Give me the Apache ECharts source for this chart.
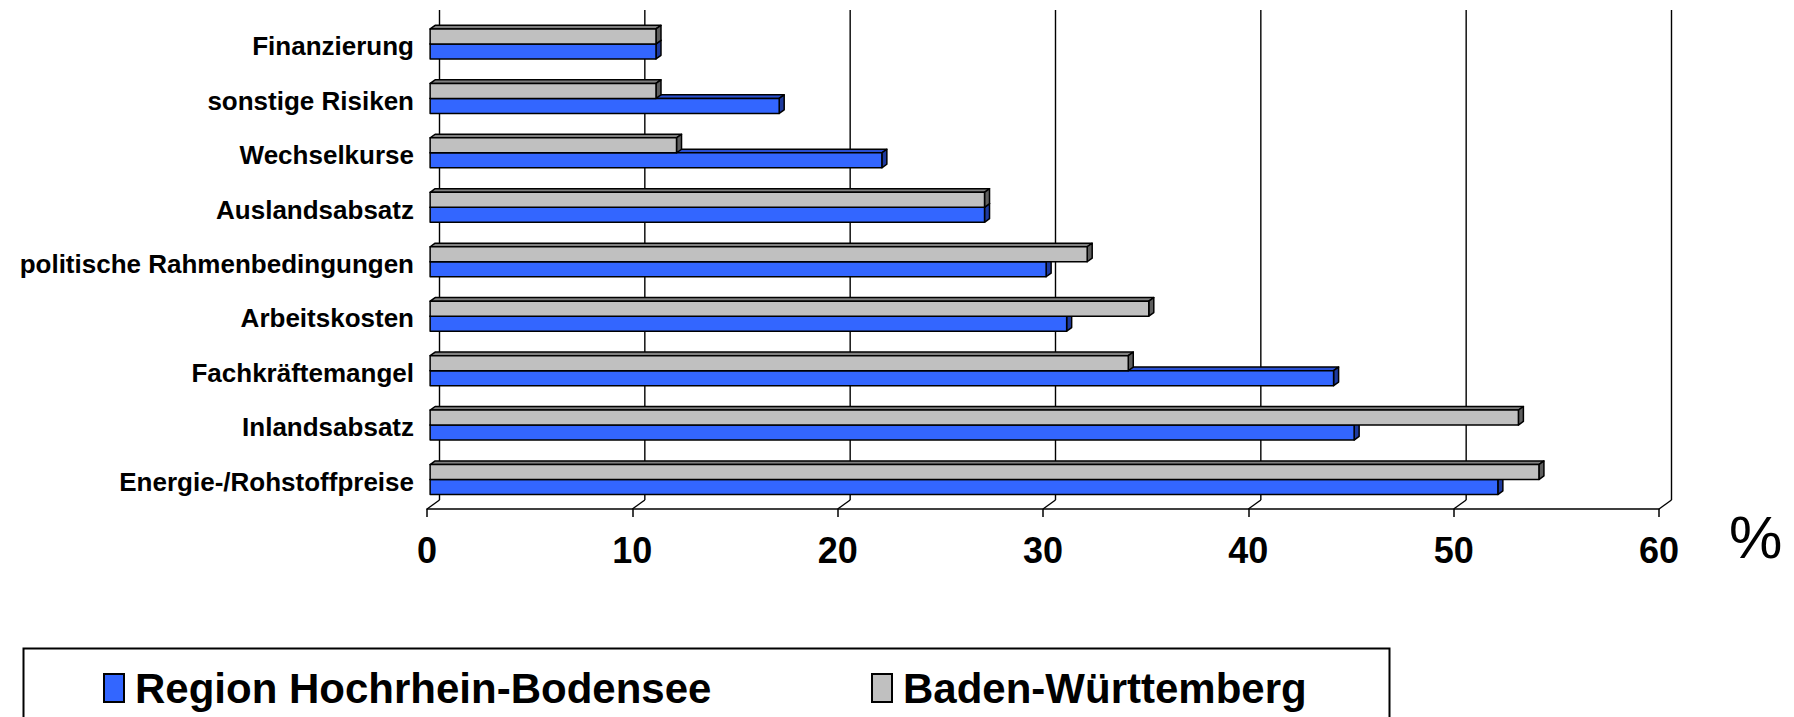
<!DOCTYPE html>
<html>
<head>
<meta charset="utf-8">
<script src="https://cdn.jsdelivr.net/npm/echarts@6/dist/echarts.min.js"></script>
<style>
  html, body { margin: 0; padding: 0; background: #fff; }
  #chart { width: 1794px; height: 717px; }
</style>
</head>
<body>
<div id="chart"></div>
<script>
// ---- data ----
const categories = ['Finanzierung', 'sonstige Risiken', 'Wechselkurse', 'Auslandsabsatz',
  'politische Rahmenbedingungen', 'Arbeitskosten', 'Fachkräftemangel', 'Inlandsabsatz',
  'Energie-/Rohstoffpreise'];
const regionValues = [11, 17, 22, 27, 30, 31, 44, 45, 52];
const bwValues = [11, 11, 12, 27, 32, 35, 34, 53, 54];
const xTicks = [0, 10, 20, 30, 40, 50, 60];
const seriesNames = ['Region Hochrhein-Bodensee', 'Baden-Württemberg'];

// ---- style ----
const FONT = "'Liberation Sans', Arial, sans-serif";
const DEPTH = [12.5, -9];      // back-wall offset in px
const FRONT = 0.25, BDEPTH = 0.4, BAR_FRAC = 0.2755;
const BLUE = { front: '#3366FF', top: '#2A50D2', side: '#1E3A9E' };
const GRAY = { front: '#C0C0C0', top: '#808080', side: '#5E5E5E' };

function barRenderer(colors, upper) {
  return function (params, api) {
    const cat = api.value(0), val = api.value(1);
    const p0 = api.coord([0, cat]);
    const p1 = api.coord([val, cat]);
    const band = api.size([0, 1])[1];
    const t = band * BAR_FRAC;
    const fx = DEPTH[0] * FRONT, fy = DEPTH[1] * FRONT;
    const bx = DEPTH[0] * BDEPTH, by = DEPTH[1] * BDEPTH;
    const yc = p0[1] + fy;
    const yTop = upper ? yc - t : yc;
    const x0 = p0[0] + fx, x1 = p1[0] + fx;
    const stroke = { stroke: '#000', lineWidth: 1.5, lineJoin: 'round' };
    return {
      type: 'group',
      children: [
        { type: 'polygon', shape: { points: [[x0, yTop], [x1, yTop], [x1 + bx, yTop + by], [x0 + bx, yTop + by]] },
          style: Object.assign({ fill: colors.top }, stroke) },
        { type: 'polygon', shape: { points: [[x1, yTop], [x1, yTop + t], [x1 + bx, yTop + t + by], [x1 + bx, yTop + by]] },
          style: Object.assign({ fill: colors.side }, stroke) },
        { type: 'rect', shape: { x: x0, y: yTop, width: x1 - x0, height: t },
          style: Object.assign({ fill: colors.front }, stroke) }
      ]
    };
  };
}

function wallRenderer(params, api) {
  const cs = params.coordSys;
  const v = api.value(0);
  const p = api.coord([v, 0]);
  const x = p[0];
  const bottom = cs.y + cs.height, top = cs.y;
  const st = { stroke: '#000', lineWidth: 1.4 };
  return {
    type: 'group',
    children: [
      { type: 'line', shape: { x1: x + DEPTH[0], y1: top + DEPTH[1], x2: x + DEPTH[0], y2: bottom + DEPTH[1] }, style: st },
      { type: 'line', shape: { x1: x, y1: bottom, x2: x + DEPTH[0], y2: bottom + DEPTH[1] }, style: st }
    ]
  };
}

const chart = echarts.init(document.getElementById('chart'), null, { renderer: 'svg' });
const legendCommon = {
  orient: 'horizontal', top: 662, itemWidth: 20, itemHeight: 28, icon: 'rect',
  itemStyle: { borderColor: '#000', borderWidth: 2 },
  textStyle: { fontFamily: FONT, fontWeight: 'bold', fontSize: 42, color: '#000', padding: [0, 0, 0, 6] },
  selectedMode: false
};
chart.setOption({
  animation: false,
  backgroundColor: '#fff',
  grid: { left: 427, top: 19, width: 1232, height: 490, containLabel: false },
  xAxis: {
    type: 'value', min: 0, max: 60, interval: 10,
    axisLine: { show: true, lineStyle: { color: '#000', width: 1.5 } },
    axisTick: { show: true, length: 8, lineStyle: { color: '#000', width: 1.5 } },
    splitLine: { show: false },
    axisLabel: { fontFamily: FONT, fontWeight: 'bold', fontSize: 36, color: '#000', margin: 41, verticalAlign: 'middle' }
  },
  yAxis: {
    type: 'category', data: categories, inverse: true,
    axisLine: { show: false }, axisTick: { show: false }, splitLine: { show: false },
    axisLabel: { fontFamily: FONT, fontWeight: 'bold', fontSize: 26, color: '#000', margin: 13,
      verticalAlign: 'middle', padding: [6, 0, 0, 0] }
  },
  legend: [
    Object.assign({ left: 98, data: [seriesNames[0]] }, legendCommon),
    Object.assign({ left: 866, data: [seriesNames[1]] }, legendCommon)
  ],
  graphic: [
    { type: 'rect', left: 21, top: 646, shape: { x: 0, y: 0, width: 1366, height: 100 },
      style: { fill: 'none', stroke: '#000', lineWidth: 2 }, z: 0 },
    { type: 'text', x: 1729, y: 537, style: { text: '%', font: '60px ' + FONT, fill: '#000',
      textAlign: 'left', textVerticalAlign: 'middle' } }
  ],
  series: [
    { type: 'custom', name: 'walls', silent: true, z: 1, renderItem: wallRenderer,
      data: xTicks.map(v => [v]), encode: { x: 0 } },
    { type: 'custom', name: seriesNames[0], z: 2, renderItem: barRenderer(BLUE, false),
      itemStyle: { color: BLUE.front },
      data: categories.map((c, i) => [i, regionValues[i]]), encode: { x: 1, y: 0 } },
    { type: 'custom', name: seriesNames[1], z: 3, renderItem: barRenderer(GRAY, true),
      itemStyle: { color: GRAY.front },
      data: categories.map((c, i) => [i, bwValues[i]]), encode: { x: 1, y: 0 } }
  ]
});
</script>
</body>
</html>
